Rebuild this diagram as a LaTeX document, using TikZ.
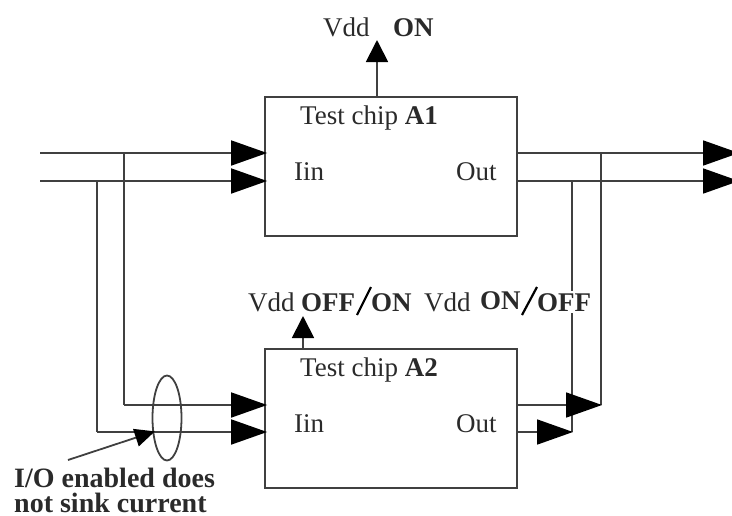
\documentclass[tikz,border=0pt]{standalone}
\usepackage{fontspec}
\setmainfont{Liberation Serif}
\usetikzlibrary{arrows.meta,shapes.geometric}
\definecolor{wirecol}{HTML}{404040}
\definecolor{textcol}{HTML}{2A2A2A}
\tikzset{
  wire/.style={draw=wirecol, line width=1.8pt},
  feed/.style={wire, shorten >=-3pt, -{Triangle[length=36pt,width=25pt,fill=black,color=black]}},
  vddfeed/.style={wire, shorten >=-2pt, -{Triangle[length=22pt,width=22pt,fill=black,color=black]}},
  chipbox/.style={wire, minimum width=252pt, minimum height=139pt, inner sep=0pt},
  lbl/.style={anchor=base west, inner sep=0pt, text=textcol, font=\fontsize{27}{27}\selectfont},
  lblb/.style={lbl, font=\fontsize{27}{27}\selectfont\bfseries},
  slash/.style={draw=black, line width=2.2pt}
}
\begin{document}
\begin{tikzpicture}[x=1pt,y=-1pt]
      \useasboundingbox (0,0) rectangle (732,515);
      \node[chipbox] (chipa) at (391,166.5) {};
      \node[chipbox] (chipb) at (391,418.5) {};
      \coordinate (ina) at (40,153);
      \coordinate (inb) at (40,181);
      \coordinate (topa) at (124,153);
      \coordinate (topb) at (97,181);
      \coordinate (lowa) at (124,405);
      \coordinate (lowb) at (97,432);
      \coordinate (outa) at (736,153);
      \coordinate (outb) at (736,181);
      \coordinate (joina) at (601,153);
      \coordinate (joinb) at (572,181);
      \coordinate (enda) at (601,405);
      \coordinate (endb) at (572,432);
      \coordinate (vdda) at (377,42);
      \coordinate (vddb) at (303,318);
      % wires into the chips
      \draw[feed] (ina) -- (chipa.west |- ina);
      \draw[feed] (inb) -- (chipa.west |- inb);
      \draw[wire] (topa) -- (lowa);
      \draw[wire] (topb) -- (lowb);
      \draw[feed] (lowa) -- (chipb.west |- lowa);
      \draw[feed] (lowb) -- (chipb.west |- lowb);
      % wires out of the chips
      \draw[wire] (joina) -- (enda);
      \draw[wire] (joinb) -- (endb);
      \draw[feed] (chipa.east |- outa) -- (outa);
      \draw[feed] (chipa.east |- outb) -- (outb);
      \draw[feed, shorten >=-1pt] (chipb.east |- enda) -- (enda);
      \draw[feed, shorten >=-1pt] (chipb.east |- endb) -- (endb);
      \draw[vddfeed] (chipa.north -| vdda) -- (vdda);
      \draw[vddfeed] (chipb.north -| vddb) -- (vddb);
      % labels
      \node[lbl] (vddtop) at (323,36) {Vdd};
      \node[lblb] (ontop) at (393,36) {ON};
      \node[lbl] (titlea) at (300,124) {Test chip \textbf{A1}};
      \node[lbl] (iina) at (294,180) {Iin};
      \node[lbl] (outlbla) at (456,180) {Out};
      \node[lbl] (vddoff) at (248,311) {Vdd};
      \node[lblb] (offa) at (301,311) {OFF};
      \node[lblb] (ona) at (371,311) {ON};
      \node[lbl] (vddon) at (424,311) {Vdd};
      \node[lblb] (onb) at (480,309) {ON};
      \node[lblb, fill=white, inner ysep=2pt] (offb) at (537,311) {OFF};
      \node[lbl] (titleb) at (300,376) {Test chip \textbf{A2}};
      \node[lbl] (iinb) at (294,432) {Iin};
      \node[lbl] (outlblb) at (456,432) {Out};
      \draw[slash] (357,315) -- (371,287);
      \draw[slash] (522,315) -- (537,287);
      % the ring and its note
      \node[wire, ellipse, minimum width=29pt, minimum height=85pt, inner sep=0pt] (ring) at (167,418) {};
      \node[lblb, anchor=north west, align=left, font=\fontsize{28}{25}\selectfont\bfseries] (note) at (14,468) {I/O enabled does\\not sink current};
      \coordinate (notefoot) at (68,460);
      \coordinate (notetip) at (153,432);
      \draw[wire, shorten >=-2pt, -{Triangle[length=20pt,width=18pt,fill=black,color=black]}] (notefoot) -- (notetip);
\end{tikzpicture}
\end{document}
